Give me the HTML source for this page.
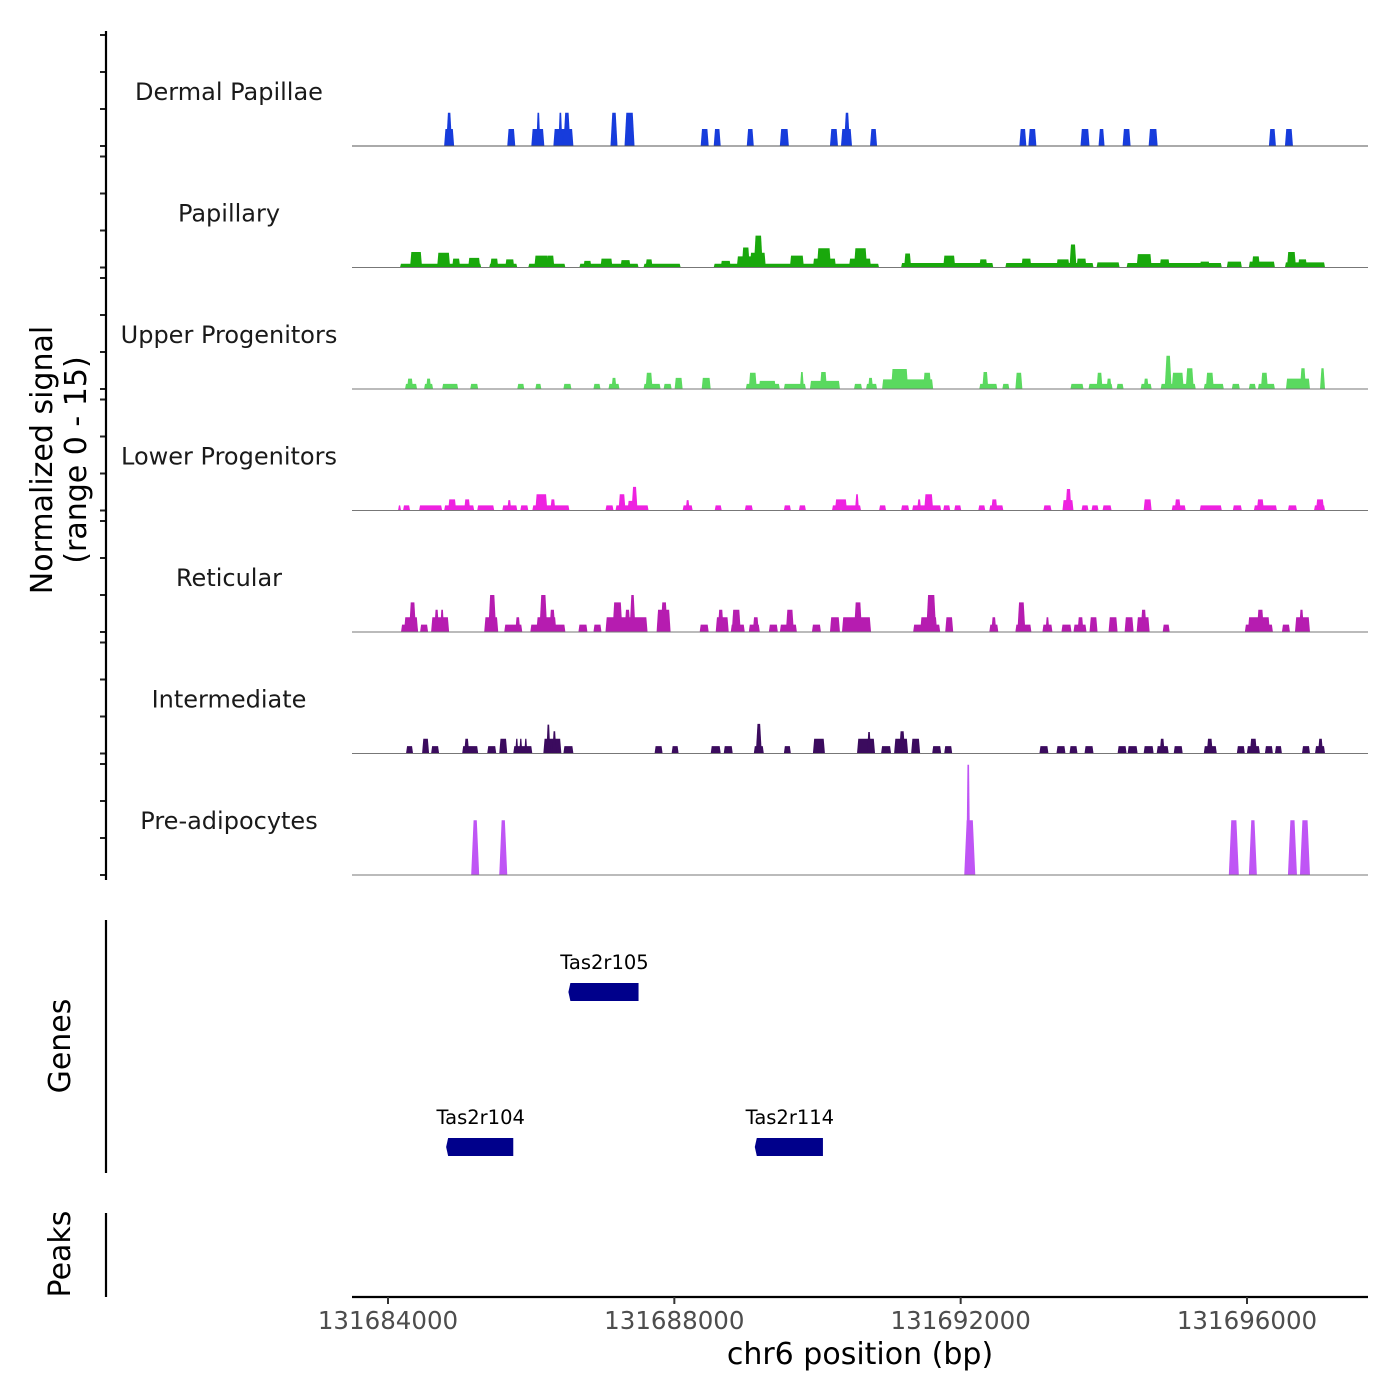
<!DOCTYPE html>
<html><head><meta charset="utf-8"><style>
html,body{margin:0;padding:0;background:#fff;}
svg{display:block;font-family:"DejaVu Sans","Liberation Sans",sans-serif;}
</style></head><body>
<svg id="chart" width="1400" height="1400" viewBox="0 0 1400 1400" xmlns="http://www.w3.org/2000/svg">
<rect width="1400" height="1400" fill="#fff"/>
<g id="tracks"></g>
<g id="axes"></g>
<g id="genes"></g>
</svg>
<script>
// positions are in kb offset from 131684000 bp; values are normalized signal
const regionStartBp = 131684000;
const trackNames = ["Dermal Papillae","Papillary","Upper Progenitors","Lower Progenitors","Reticular","Intermediate","Pre-adipocytes"];
const trackColors = ["#173cdc","#19a80c","#5ad95f","#ee22e0","#b61cb0","#3b0b5e","#bf55f5"];
const xTickValues = [131684000,131688000,131692000,131696000];
const xTickLabels = ["131684000","131688000","131692000","131696000"];
const yTickValues = [0,5,10,15];

const dermalSegments = [
[0.784,0.924,2.3],[0.812,0.896,4.5],[1.666,1.778,2.3],[2.002,2.184,2.3],[2.072,2.128,4.5],
[2.31,2.59,2.3],[2.38,2.436,4.5],[2.45,2.548,4.5],[3.108,3.206,4.5],[3.304,3.444,4.5],
[4.368,4.48,2.3],[4.55,4.648,2.3],[5.012,5.11,2.3],[5.474,5.6,2.3],[6.174,6.286,2.3],
[6.328,6.482,2.3],[6.37,6.454,4.5],[6.734,6.832,2.3],[8.82,8.918,2.3],[8.946,9.058,2.3],
[9.674,9.8,2.3],[9.926,10.01,2.3],[10.262,10.374,2.3],[10.626,10.752,2.3],[12.306,12.404,2.3],[12.53,12.642,2.3]];
const papillarySegments = [
[0.168,1.302,0.5],[0.308,0.476,2.1],[0.686,0.868,2.0],[0.896,1.008,1.2],[1.12,1.288,1.3],
[1.414,1.806,0.5],[1.428,1.54,1.2],[1.638,1.764,1.1],[1.96,2.478,0.5],[2.044,2.24,1.6],[2.212,2.324,1.6],
[2.674,3.5,0.5],[2.73,2.842,0.9],[2.968,3.136,1.2],[3.248,3.388,1.0],[3.57,4.088,0.5],[3.598,3.696,1.1],
[4.55,6.86,0.5],[4.648,4.788,0.9],[4.872,5.152,1.5],[4.942,5.054,2.7],[5.054,5.278,2.0],[5.11,5.236,4.3],
[5.614,5.81,1.6],[5.936,6.258,1.2],[5.992,6.188,2.6],[6.44,6.748,1.2],[6.51,6.692,2.6],
[7.168,8.456,0.6],[7.21,7.308,1.9],[7.756,7.924,1.6],[8.26,8.372,1.1],
[8.624,9.856,0.6],[8.848,8.988,1.2],[9.338,9.52,1.1],[9.52,9.618,3.1],[9.618,9.758,1.2],
[9.898,10.22,0.7],[10.318,11.648,0.6],[10.458,10.668,1.8],[10.78,10.92,1.1],[11.34,11.48,0.8],
[11.718,11.928,0.8],[12.026,12.39,0.8],[12.068,12.18,1.5],[12.53,13.09,0.7],[12.558,12.684,2.1],[12.712,12.838,1.1]];
const upperSegments = [
[0.238,0.406,0.7],[0.266,0.35,1.4],[0.504,0.63,0.7],[0.532,0.602,1.4],[0.756,0.98,0.7],[1.148,1.26,0.7],
[1.806,1.904,0.7],[2.058,2.142,0.7],[2.45,2.562,0.7],[2.87,2.968,0.7],[3.08,3.234,0.7],[3.122,3.192,1.5],
[3.57,3.808,0.7],[3.598,3.696,2.2],[3.85,3.962,0.7],[4.004,4.116,1.5],[4.382,4.508,1.5],
[4.998,5.474,0.7],[5.04,5.152,2.2],[5.18,5.418,1.1],[5.53,5.838,0.7],[5.754,5.81,2.3],
[5.894,6.314,1.1],[6.034,6.132,2.3],[6.51,6.622,0.7],[6.678,6.832,0.7],[6.706,6.776,1.5],
[6.902,7.616,1.3],[7.028,7.266,2.7],[7.476,7.588,2.2],[8.26,8.512,0.7],[8.302,8.386,2.3],
[8.582,8.68,0.7],[8.764,8.862,2.2],[9.534,9.716,0.7],[9.786,10.122,0.7],[9.898,9.982,2.2],[10.038,10.108,1.4],
[10.178,10.276,0.7],[10.514,10.668,0.7],[10.556,10.626,1.4],[10.794,11.284,0.7],[10.85,10.948,4.5],
[10.948,11.116,2.2],[11.144,11.256,2.8],[11.396,11.676,0.7],[11.424,11.536,2.2],[11.788,11.9,0.7],
[12.026,12.124,0.7],[12.152,12.39,0.7],[12.194,12.292,2.2],[12.544,12.88,1.4],[12.74,12.824,2.8],[13.02,13.09,2.8]];
const lowerSegments = [
[0.14,0.182,0.7],[0.21,0.308,0.7],[0.434,0.756,0.7],[0.784,1.204,0.7],[0.84,0.952,1.5],[1.064,1.148,1.5],
[1.246,1.484,0.7],[1.596,1.806,0.7],[1.666,1.722,1.4],[1.848,1.96,0.7],[2.016,2.534,0.7],[2.058,2.226,2.2],
[2.268,2.338,1.5],[3.038,3.15,0.7],[3.178,3.64,0.7],[3.22,3.318,2.2],[3.346,3.472,1.3],[3.402,3.486,3.2],
[4.116,4.256,0.7],[4.158,4.214,1.4],[4.564,4.662,0.7],[4.984,5.096,0.7],[5.53,5.628,0.7],[5.74,5.838,0.7],
[6.202,6.608,0.7],[6.244,6.412,1.5],[6.524,6.58,2.2],[6.86,6.958,0.7],[7.168,7.28,0.7],[7.322,7.728,0.7],
[7.392,7.448,1.5],[7.49,7.616,2.2],[7.756,7.854,0.7],[7.91,8.008,0.7],[8.246,8.344,0.7],[8.4,8.596,0.7],
[8.428,8.512,1.5],[9.156,9.268,0.7],[9.422,9.576,1.4],[9.464,9.548,2.9],[9.688,9.786,0.7],[9.828,9.926,0.7],
[9.982,10.108,0.7],[10.556,10.668,1.5],[10.948,11.144,0.7],[10.99,11.074,1.5],[11.34,11.648,0.7],
[11.802,11.928,0.7],[12.096,12.418,0.7],[12.138,12.236,1.5],[12.572,12.698,0.7],[12.936,13.09,0.7],[12.964,13.076,1.5]];
const reticularSegments = [
[0.182,0.42,1.0],[0.224,0.42,2.0],[0.294,0.392,4.0],[0.448,0.56,1.0],[0.602,0.854,2.0],[0.644,0.714,3.0],
[0.728,0.784,3.0],[1.344,1.54,2.0],[1.4,1.512,5.0],[1.624,1.876,1.0],[1.778,1.848,2.0],[1.988,2.478,1.0],
[2.072,2.352,2.0],[2.114,2.226,5.0],[2.254,2.338,3.0],[2.66,2.786,1.0],[2.87,2.982,1.0],[3.038,3.626,2.0],
[3.136,3.276,4.0],[3.304,3.388,3.0],[3.374,3.458,5.0],[3.752,3.948,3.0],[3.808,3.906,4.0],[4.354,4.48,1.0],
[4.578,4.76,2.0],[4.606,4.69,3.0],[4.788,4.984,1.0],[4.802,4.928,3.0],[5.04,5.194,1.0],[5.096,5.18,2.0],
[5.32,5.446,1.0],[5.474,5.712,1.0],[5.558,5.67,3.0],[5.922,6.048,1.0],[6.174,6.314,2.0],[6.342,6.748,2.0],
[6.51,6.622,4.0],[7.336,7.714,1.0],[7.434,7.672,2.0],[7.518,7.658,5.0],[7.784,7.896,2.0],[8.4,8.526,1.0],
[8.428,8.498,2.0],[8.764,8.988,1.0],[8.792,8.904,4.0],[9.142,9.282,1.0],[9.184,9.24,2.0],[9.408,9.548,1.0],
[9.576,9.758,1.0],[9.632,9.716,2.0],[9.8,9.912,2.0],[10.066,10.192,2.0],[10.29,10.416,2.0],[10.458,10.64,2.0],
[10.514,10.598,3.0],[10.822,10.92,1.0],[11.97,12.362,1.0],[12.012,12.32,2.0],[12.138,12.236,3.0],
[12.488,12.6,1.0],[12.67,12.88,2.0],[12.726,12.796,3.0]];
const intermediateSegments = [
[0.252,0.35,1],[0.476,0.574,2],[0.602,0.714,1],[1.036,1.26,1],[1.064,1.134,2],[1.386,1.512,1],[1.554,1.666,2],
[1.75,2.016,1],[1.778,1.82,2],[1.834,1.876,2],[1.904,1.946,2],[2.17,2.422,2],[2.212,2.268,3.9],[2.296,2.352,3.0],
[2.45,2.59,1],[3.724,3.836,1],[3.962,4.06,1],[4.508,4.648,1],[4.69,4.816,1],[5.11,5.25,1],[5.138,5.222,4.0],
[5.53,5.628,1],[5.936,6.104,2],[6.552,6.804,2],[6.692,6.748,2.9],[6.888,7.028,1],[7.07,7.266,2],[7.14,7.224,3.0],
[7.308,7.434,2],[7.602,7.728,1],[7.77,7.882,1],[9.1,9.226,1],[9.338,9.464,1],[9.52,9.632,1],[9.73,9.856,1],
[10.192,10.318,1],[10.332,10.472,1],[10.556,10.696,1],[10.738,10.906,1],[10.78,10.85,2],[10.976,11.102,1],
[11.396,11.578,1],[11.438,11.522,2],[11.858,11.97,1],[11.998,12.18,1],[12.04,12.138,2],[12.25,12.362,1],
[12.39,12.488,1],[12.768,12.88,1],[12.95,13.09,1],[12.992,13.062,2]];
const preadipocyteSegments = [
[1.162,1.274,7.4],[1.554,1.666,7.4],[8.05,8.204,7.4],[8.078,8.134,14.9],[11.746,11.886,7.4],
[12.026,12.138,7.4],[12.572,12.698,7.4],[12.74,12.88,7.4]];
const allSegments = [dermalSegments,papillarySegments,upperSegments,lowerSegments,reticularSegments,intermediateSegments,preadipocyteSegments];

const geneNames = ["Tas2r105","Tas2r104","Tas2r114"];
const geneStartsKb = [2.548,0.84,5.152];
const geneEndsKb = [3.5,1.75,6.076];
const geneRows = [0,1,1];

// scales
const plotLeft = 352, plotRight = 1368;
const xPerBp = (1247-388)/12000;
function xScale(bp){ return 388 + (bp - regionStartBp)*xPerBp; }
function xKb(kb){ return xScale(regionStartBp + kb*1000); }
const trackBase0 = 146, trackStep = 121.5, pxPerUnit = 111/15;
function yScale(track, v){ return trackBase0 + track*trackStep - v*pxPerUnit; }

const NS = "http://www.w3.org/2000/svg";
function mk(tag, attrs, parent){ const e=document.createElementNS(NS,tag); for(const k in attrs) e.setAttribute(k,attrs[k]); parent.appendChild(e); return e; }
const gT = document.getElementById('tracks');
const gA = document.getElementById('axes');
const gG = document.getElementById('genes');

trackNames.forEach((name, ti) => {
  const g = mk('g', {}, gT);
  
  
  const base = yScale(ti, 0);
  allSegments[ti].forEach(seg => {
    const x0 = xKb(seg[0]), x1 = xKb(seg[1]), yt = yScale(ti, seg[2]);
    const w = x1 - x0, h = base - yt;
    const inset = Math.min(w*0.3, 0.03*h + 0.8);
    const p = mk('polygon', {points: `${x0},${base} ${x0+inset},${yt} ${x1-inset},${yt} ${x1},${base}`, fill: trackColors[ti]}, g);
    
    
  });
  const bl = mk('line', {x1: plotLeft, x2: plotRight, y1: base, y2: base, stroke: ti === 0 ? '#555' : '#777', 'stroke-width': 1.1}, g);
  
  
  const lab = mk('text', {x: 229, y: base - 46, 'text-anchor': 'middle', 'font-size': 24, fill: '#1a1a1a'}, g);
  lab.textContent = name;
  
  
  yTickValues.forEach(v => {
    const y = yScale(ti, v);
    const t = mk('line', {x1: 100, x2: 106, y1: y, y2: y, stroke: '#222', 'stroke-width': 2}, gA);
    
    
  });
});

[[31,880,'signal-y-axis'],[920,1173,'genes-y-axis'],[1213,1297,'peaks-y-axis']].forEach(a => {
  const l = mk('line', {x1: 106, x2: 106, y1: a[0], y2: a[1], stroke: '#000', 'stroke-width': 2.2}, gA);
  
  
});
const xa = mk('line', {x1: plotLeft, x2: plotRight, y1: 1297, y2: 1297, stroke: '#000', 'stroke-width': 2.2}, gA);


xTickValues.forEach((v, i) => {
  const x = xScale(v);
  const t = mk('line', {x1: x, x2: x, y1: 1297, y2: 1304, stroke: '#333', 'stroke-width': 2}, gA);
  
  
  const tl = mk('text', {x: x, y: 1329, 'text-anchor': 'middle', 'font-size': 24.5, fill: '#4d4d4d'}, gA);
  tl.textContent = xTickLabels[i];
  
  
});
const xt = mk('text', {x: 860, y: 1364, 'text-anchor': 'middle', 'font-size': 30, fill: '#000'}, gA);
xt.textContent = 'chr6 position (bp)';



const yt = mk('text', {transform: 'translate(52,460) rotate(-90)', 'text-anchor': 'middle', 'font-size': 30, fill: '#000'}, gA);


const ts1 = mk('tspan', {x: 0, dy: 0}, yt); ts1.textContent = 'Normalized signal';
const ts2 = mk('tspan', {x: 0, dy: 34}, yt); ts2.textContent = '(range 0 - 15)';
const gt = mk('text', {transform: 'translate(70,1046) rotate(-90)', 'text-anchor': 'middle', 'font-size': 30, fill: '#000'}, gA);
gt.textContent = 'Genes';


const pt = mk('text', {transform: 'translate(70,1254) rotate(-90)', 'text-anchor': 'middle', 'font-size': 30, fill: '#000'}, gA);
pt.textContent = 'Peaks';



const geneRowY = [992, 1147];
geneNames.forEach((n, i) => {
  const x0 = xKb(geneStartsKb[i]), x1 = xKb(geneEndsKb[i]), cy = geneRowY[geneRows[i]];
  const r = mk('polygon', {points: `${x0-2},${cy} ${x0},${cy-9} ${x1},${cy-9} ${x1},${cy+9} ${x0},${cy+9}`, fill: '#00008b'}, gG);
  
  
  const t = mk('text', {x: (x0+x1)/2, y: cy - 23, 'text-anchor': 'middle', 'font-size': 19.5, fill: '#000'}, gG);
  t.textContent = n;
  
  
});
</script>
</body></html>
